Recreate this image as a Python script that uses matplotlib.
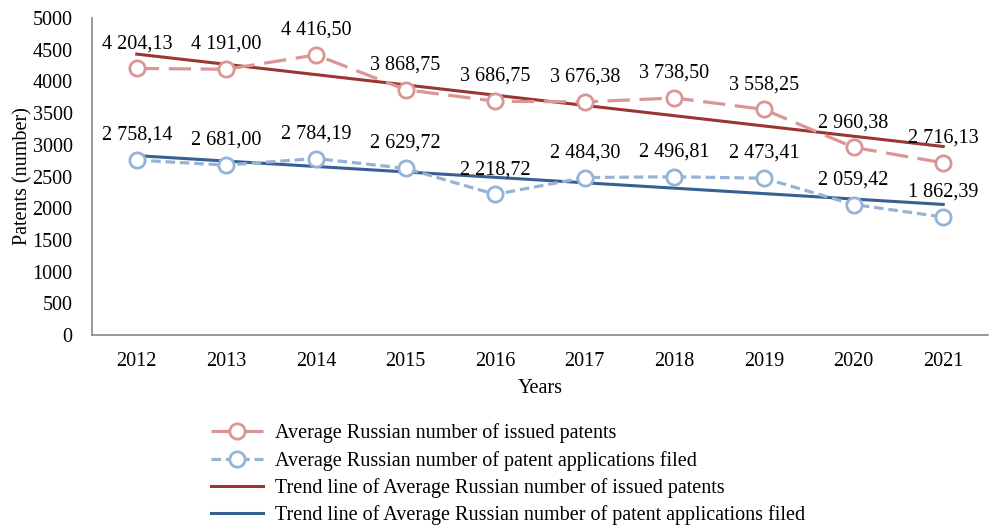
import matplotlib
matplotlib.use("Agg")
import matplotlib.pyplot as plt
import numpy as np

plt.rcParams['font.family'] = ['Liberation Serif', 'DejaVu Serif']

# data
years = ["2012", "2013", "2014", "2015", "2016", "2017", "2018", "2019", "2020", "2021"]
issued = [4204.13, 4191.00, 4416.50, 3868.75, 3686.75, 3676.38, 3738.50, 3558.25, 2960.38, 2716.13]
applications = [2758.14, 2681.00, 2784.19, 2629.72, 2218.72, 2484.30, 2496.81, 2473.41, 2059.42, 1862.39]
y_ticks = [0, 500, 1000, 1500, 2000, 2500, 3000, 3500, 4000, 4500, 5000]

c_issued = "#D99694"
c_appl = "#95B3D7"
c_trend_issued = "#9B3531"
c_trend_appl = "#376092"
fs = 14.5


def fmt(v):
    s = f"{v:,.2f}"
    return s.replace(",", " ").replace(".", ",")


fig = plt.figure(figsize=(9.89, 5.27), dpi=100)
ax = fig.add_axes([0.093, 0.364, 0.906, 0.602])

x = np.arange(len(years))

# linear trend lines (same as Excel trendline)
k1, b1 = np.polyfit(x, issued, 1)
k2, b2 = np.polyfit(x, applications, 1)

ax.plot(x, issued, color=c_issued, lw=2.3, dashes=(7, 3),
        marker="o", ms=11, mfc="white", mec=c_issued, mew=2,
        label="Average Russian number of issued patents", zorder=3)
ax.plot(x, applications, color=c_appl, lw=2.3, dashes=(3, 1.5),
        marker="o", ms=11, mfc="white", mec=c_appl, mew=2,
        label="Average Russian number of patent applications filed", zorder=3)
ax.plot(x, k1 * x + b1, color=c_trend_issued, lw=2.2,
        label="Trend line of Average Russian number of issued patents", zorder=2)
ax.plot(x, k2 * x + b2, color=c_trend_appl, lw=2.2,
        label="Trend line of Average Russian number of patent applications filed", zorder=2)

for xi, v in zip(x, issued):
    ax.annotate(fmt(v), (xi, v), xytext=(0, 11), textcoords="offset points",
                ha="center", va="bottom", fontsize=fs)
for xi, v in zip(x, applications):
    ax.annotate(fmt(v), (xi, v), xytext=(0, 11), textcoords="offset points",
                ha="center", va="bottom", fontsize=fs)

ax.set_xlim(-0.5, len(years) - 0.5)
ax.set_ylim(0, 5000)
ax.set_xticks(x)
ax.set_xticklabels(years, fontsize=fs)
ax.set_yticks(y_ticks)
ax.set_yticklabels([str(t) for t in y_ticks], fontsize=fs)
ax.tick_params(axis="x", length=0, pad=12)
ax.tick_params(axis="y", length=0, pad=14)

for s in ["top", "right"]:
    ax.spines[s].set_visible(False)
ax.spines["left"].set_color("#888888")
ax.spines["bottom"].set_color("#888888")
ax.spines["left"].set_linewidth(1.2)
ax.spines["bottom"].set_linewidth(1.2)

ax.set_xlabel("Years", fontsize=fs, labelpad=6)
ax.set_ylabel("Patents (number)", fontsize=fs, labelpad=0)

fig.legend(loc="upper left", bbox_to_anchor=(0.205, 0.212), frameon=False,
           fontsize=fs, handlelength=2.6, labelspacing=0.37, borderaxespad=0,
           handletextpad=0.6)

fig.savefig("out.png", dpi=100)
